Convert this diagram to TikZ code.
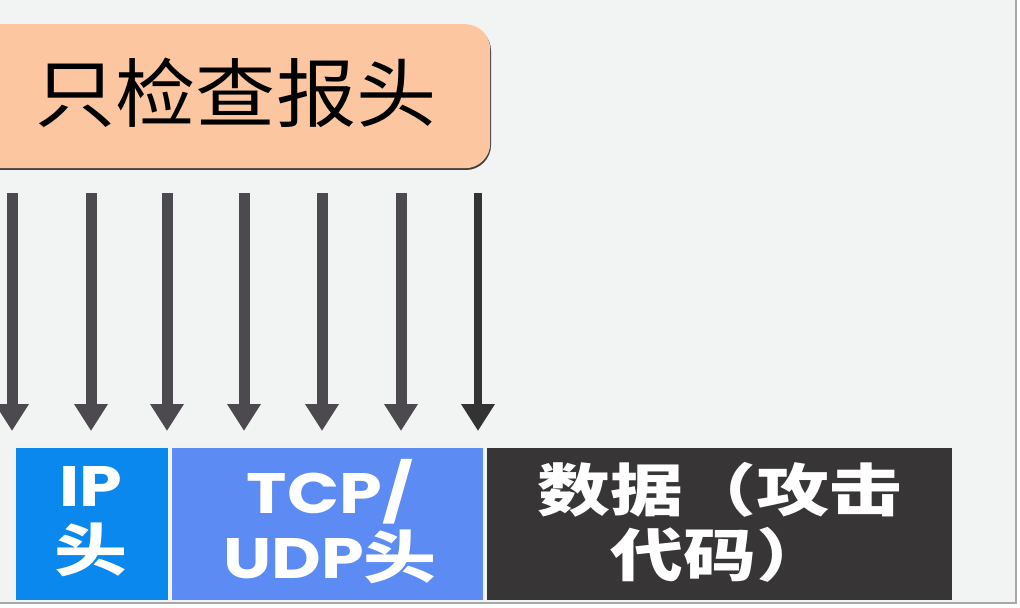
\documentclass[tikz,border=0pt]{standalone}
\usepackage{fontspec}
\usepackage{graphicx}
\usetikzlibrary{arrows.meta}
\setmainfont{Noto Sans CJK SC}
\newfontfamily\topf[FakeStretch=1.07]{Noto Sans CJK SC}
\newfontfamily\botf[FakeStretch=1.28]{Noto Sans CJK SC}
\newfontfamily\latf[FakeStretch=1.2]{Poppins}
\definecolor{bgc}{HTML}{F2F4F4}
\definecolor{peach}{HTML}{FCC7A0}
\definecolor{ipblue}{HTML}{0A88EE}
\definecolor{tcpblue}{HTML}{5B8BF3}
\definecolor{datadark}{HTML}{383536}
\definecolor{arrowc}{HTML}{4D4A4F}
\definecolor{framec}{HTML}{A8A8AA}
\tikzset{
  blockbox/.style={draw=none, minimum height=152bp, inner sep=0pt, text=white, align=center, anchor=north west},
  downarrow/.style={draw=arrowc, line width=11bp, line cap=butt, -{Triangle[width=32bp,length=27bp]}},
  bigtext/.style={font=\botf\bfseries\fontsize{57bp}{65bp}\selectfont}
}
\begin{document}
\begin{tikzpicture}[x=1bp,y=-1bp]
\useasboundingbox (0,0) rectangle (1020,608);
\clip (0,0) rectangle (1020,608);
\fill[bgc] (0,0) rectangle (1020,608);
\fill[white] (1016,0) rectangle (1020,608);
\fill[white] (0,603) rectangle (1020,608);
\draw[framec, line width=1.2bp] (1016,0) -- (1016,603) -- (0,603);
% top box
\fill[black!75, rounded corners=25bp] (-40,26) rectangle (491,170);
\node[fill=peach, rounded corners=25bp, minimum width=530bp, minimum height=144bp, anchor=north west, inner sep=0pt] (top) at (-40,24) {};
\node[font=\topf\fontsize{75bp}{80bp}\selectfont, text=black, inner sep=0pt] (toptxt) at (236,93) {只检查报头};
% blocks
\node[blockbox, fill=ipblue, minimum width=152bp] (ip) at (16,448) {};
\node[blockbox, fill=tcpblue, minimum width=311bp] (tcp) at (172,448) {};
\node[blockbox, fill=datadark, minimum width=465bp] (data) at (487,448) {};
\node[bigtext, text=white, align=center, inner sep=0pt] (iptxt) at (91,522) {{\latf\bfseries IP}\\头};
\node[bigtext, text=white, align=center, inner sep=0pt] (tcptxt) at (330,522) {{\latf\bfseries TCP/}\\{\latf\bfseries UDP}头};
\node[bigtext, text=white, align=center, inner sep=0pt] (datatxt) at (720,522) {数据（攻击\\代码）};
% arrows
\foreach \i/\x in {1/12,2/91,3/167,4/244,5/322,6/401,7/478}{
  \coordinate (s\i) at (\x,193);
  \coordinate (e\i) at (\x,431);
}
\foreach \i in {1,...,6}{\draw[downarrow] (s\i) -- (e\i);}
\draw[downarrow, line width=8bp, draw=black!80] (s7) -- (e7);
\end{tikzpicture}
\end{document}
